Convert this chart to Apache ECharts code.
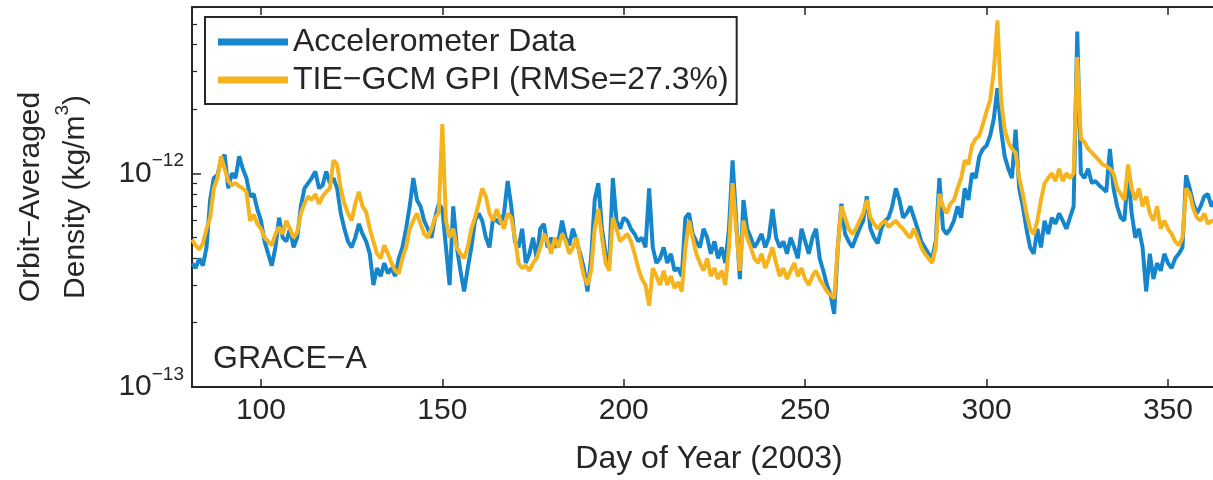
<!DOCTYPE html>
<html>
<head>
<meta charset="utf-8">
<script src="https://cdn.jsdelivr.net/npm/echarts@6/dist/echarts.min.js"></script>
<style>
  html, body { margin: 0; padding: 0; background: #fff; overflow: hidden; }
  #chart { width: 1226px; height: 480px; }
</style>
</head>
<body>
<div id="chart"></div>
<script>
// Day of year 81..363 (one value per day), densities in units of 1e-12 kg/m^3
const firstDay = 81;
const accelerometer = [
  0.38,0.36,0.40,0.37,0.45,0.75,0.95,0.98,1.15,1.22,
  0.85,1.0,0.95,1.2,1.05,0.95,0.78,0.8,0.68,0.6,
  0.48,0.42,0.37,0.45,0.62,0.5,0.48,0.55,0.45,0.5,
  0.7,0.85,0.9,0.95,1.02,0.85,0.88,1.02,0.9,0.95,
  0.85,0.65,0.55,0.48,0.45,0.5,0.58,0.52,0.48,0.42,
  0.3,0.36,0.33,0.38,0.34,0.36,0.33,0.4,0.45,0.55,
  0.7,0.95,0.75,0.7,0.6,0.55,0.5,0.62,0.72,0.68,
  0.45,0.3,0.7,0.45,0.35,0.28,0.36,0.45,0.6,0.65,
  0.6,0.5,0.45,0.62,0.6,0.58,0.65,0.92,0.7,0.48,
  0.45,0.55,0.38,0.42,0.5,0.4,0.55,0.58,0.45,0.5,
  0.45,0.48,0.6,0.5,0.46,0.55,0.48,0.42,0.36,0.28,
  0.4,0.75,0.9,0.55,0.42,0.38,0.95,0.6,0.55,0.62,
  0.6,0.55,0.52,0.48,0.5,0.45,0.85,0.45,0.38,0.4,
  0.45,0.38,0.42,0.35,0.36,0.33,0.62,0.65,0.52,0.48,
  0.45,0.55,0.5,0.42,0.48,0.4,0.45,0.38,0.55,1.15,
  0.6,0.32,0.75,0.55,0.5,0.45,0.48,0.52,0.45,0.5,
  0.68,0.5,0.45,0.48,0.42,0.5,0.45,0.4,0.55,0.48,
  0.42,0.5,0.55,0.4,0.35,0.3,0.27,0.22,0.45,0.72,
  0.52,0.48,0.45,0.5,0.55,0.6,0.78,0.55,0.5,0.47,
  0.55,0.6,0.62,0.7,0.85,0.75,0.62,0.65,0.7,0.62,
  0.55,0.48,0.45,0.42,0.4,0.48,0.95,0.55,0.52,0.55,
  0.6,0.7,0.62,0.85,0.75,1.0,0.95,1.2,1.3,1.35,
  1.5,1.8,2.5,1.6,1.2,1.05,0.95,1.6,0.85,0.7,
  0.55,0.45,0.42,0.55,0.45,0.6,0.52,0.62,0.58,0.65,
  0.6,0.55,0.62,0.7,4.6,1.0,0.95,1.05,0.9,0.92,
  0.88,0.85,0.82,1.3,0.85,0.7,0.62,0.6,1.0,0.65,
  0.5,0.55,0.45,0.28,0.42,0.32,0.38,0.35,0.42,0.38,
  0.36,0.4,0.42,0.45,0.98,0.85,0.72,0.65,0.7,0.78,0.8,0.7,0.75
];
const tiegcm = [
  0.49,0.46,0.44,0.47,0.55,0.62,0.85,0.95,1.2,1.05,
  0.92,0.88,0.9,0.87,0.85,0.82,0.6,0.64,0.58,0.55,
  0.5,0.48,0.46,0.52,0.56,0.52,0.6,0.55,0.5,0.53,
  0.65,0.72,0.78,0.75,0.8,0.72,0.78,0.82,0.85,1.15,
  1.1,0.85,0.72,0.65,0.6,0.72,0.82,0.7,0.66,0.55,
  0.48,0.42,0.4,0.46,0.42,0.38,0.35,0.34,0.4,0.45,
  0.55,0.6,0.65,0.58,0.52,0.5,0.55,0.62,0.65,1.7,
  0.6,0.5,0.55,0.45,0.42,0.4,0.45,0.55,0.62,0.72,
  0.85,0.78,0.65,0.6,0.68,0.6,0.55,0.65,0.62,0.5,
  0.38,0.36,0.37,0.35,0.38,0.4,0.45,0.52,0.48,0.42,
  0.5,0.45,0.52,0.48,0.42,0.45,0.5,0.4,0.33,0.3,
  0.35,0.55,0.68,0.5,0.38,0.35,0.62,0.55,0.48,0.5,
  0.52,0.48,0.42,0.36,0.32,0.3,0.24,0.36,0.33,0.3,
  0.35,0.3,0.33,0.29,0.31,0.28,0.45,0.6,0.5,0.42,
  0.38,0.35,0.4,0.33,0.36,0.32,0.35,0.3,0.45,0.9,
  0.55,0.35,0.6,0.5,0.45,0.4,0.38,0.42,0.36,0.4,
  0.45,0.38,0.33,0.36,0.32,0.35,0.38,0.33,0.36,0.32,
  0.3,0.33,0.35,0.32,0.3,0.28,0.27,0.26,0.45,0.7,
  0.62,0.55,0.52,0.55,0.6,0.65,0.75,0.62,0.58,0.55,
  0.58,0.6,0.56,0.58,0.6,0.57,0.55,0.52,0.5,0.55,
  0.5,0.45,0.42,0.4,0.38,0.45,0.8,0.7,0.65,0.72,
  0.75,0.85,0.95,1.15,1.1,1.35,1.45,1.5,1.7,1.95,
  2.2,3.0,5.2,2.2,1.6,1.4,1.3,1.25,0.95,0.8,
  0.65,0.55,0.52,0.6,0.75,0.9,0.95,1.0,0.92,1.05,
  0.92,1.0,0.95,1.0,3.5,1.45,1.4,1.3,1.25,1.2,
  1.15,1.1,1.08,1.05,1.0,0.85,0.8,0.75,1.1,0.85,
  0.75,0.85,0.7,0.78,0.65,0.6,0.7,0.55,0.6,0.55,
  0.52,0.48,0.46,0.5,0.85,0.8,0.68,0.62,0.6,0.65,0.58,0.6,0.6
];
const seriesNames = ['Accelerometer Data', 'TIE\u2212GCM GPI (RMSe=27.3%)'];
const xTicks = [100, 150, 200, 250, 300, 350];
const yMajorTicks = [0.1, 1];            // 10^-13, 10^-12
const yMinorTicks = [0.2,0.3,0.4,0.5,0.6,0.7,0.8,0.9,2,3,4,5,6];
const panelLabel = 'GRACE\u2212A';

const days = accelerometer.map((_, i) => firstDay + i);
const FONT = 'Liberation Sans, Arial, Helvetica, sans-serif';
const TXT = '#262626';

const chart = echarts.init(document.getElementById('chart'), null, { renderer: 'canvas' });
chart.setOption({
  animation: false,
  textStyle: { fontFamily: FONT, color: TXT },
  grid: { left: 192, right: 0, top: 7, bottom: 91, containLabel: false },
  legend: {
    left: 205, top: 17, orient: 'vertical', icon: 'rect',
    itemWidth: 70, itemHeight: 7, itemGap: 6,
    padding: [9, 8, 8, 13],
    borderColor: TXT, borderWidth: 2, backgroundColor: '#fff',
    textStyle: { fontSize: 32, lineHeight: 32, color: TXT, fontFamily: FONT },
    data: seriesNames
  },
  xAxis: [{
    type: 'value', min: 81, max: 366, position: 'bottom',
    axisLine: { show: true, lineStyle: { color: TXT, width: 2 } },
    axisTick: { show: true, inside: true, length: 8, customValues: xTicks, lineStyle: { color: TXT, width: 1.5 } },
    axisLabel: { customValues: xTicks, fontSize: 30, color: TXT, margin: 9, fontFamily: FONT },
    splitLine: { show: false },
    name: 'Day of Year (2003)', nameLocation: 'middle', nameGap: 56,
    nameTextStyle: { fontSize: 32, color: TXT, fontFamily: FONT }
  }, {
    type: 'value', min: 81, max: 366, position: 'top',
    axisLine: { show: true, lineStyle: { color: TXT, width: 2 } },
    axisTick: { show: true, inside: true, length: 8, customValues: xTicks, lineStyle: { color: TXT, width: 1.5 } },
    axisLabel: { show: false },
    splitLine: { show: false }
  }],
  yAxis: [{
    type: 'log', logBase: 10, min: 0.1, max: 6, position: 'left',
    axisLine: { show: true, lineStyle: { color: TXT, width: 2 } },
    axisTick: { show: true, inside: true, length: 9, customValues: yMajorTicks, lineStyle: { color: TXT, width: 1.5 } },
    axisLabel: {
      customValues: yMajorTicks, margin: 8,
      formatter: v => '{b|10}{s|\u2212' + (12 - Math.round(Math.log10(v))) + '}',
      rich: {
        b: { fontSize: 30, lineHeight: 44, color: TXT, fontFamily: FONT },
        s: { fontSize: 19, lineHeight: 20, verticalAlign: 'top', color: TXT, fontFamily: FONT }
      }
    },
    splitLine: { show: false }, minorTick: { show: false },
    name: 'Orbit\u2212Averaged\nDensity (kg/m{s|3})',
    nameLocation: 'middle', nameRotate: 90, nameGap: 94,
    nameTextStyle: {
      fontSize: 30, lineHeight: 45, color: TXT, fontFamily: FONT,
      rich: { s: { fontSize: 19, lineHeight: 20, verticalAlign: 'top', color: TXT, fontFamily: FONT } }
    }
  }, {
    type: 'log', logBase: 10, min: 0.1, max: 6, position: 'left',
    axisLine: { show: false },
    axisTick: { show: true, inside: true, length: 5, customValues: yMinorTicks, lineStyle: { color: TXT, width: 1.2 } },
    axisLabel: { show: false },
    splitLine: { show: false }
  }],
  graphic: [{
    type: 'text', left: 213, top: 343, z: 100,
    style: { text: panelLabel, fontSize: 32, fill: TXT, fontFamily: FONT }
  }],
  series: [{
    name: seriesNames[0], type: 'line', showSymbol: false, symbol: 'none',
    xAxisIndex: 0, yAxisIndex: 0,
    data: days.map((d, i) => [d, accelerometer[i]]),
    lineStyle: { color: '#1586CC', width: 4 }, itemStyle: { color: '#1586CC' }
  }, {
    name: seriesNames[1], type: 'line', showSymbol: false, symbol: 'none',
    xAxisIndex: 0, yAxisIndex: 0,
    data: days.map((d, i) => [d, tiegcm[i]]),
    lineStyle: { color: '#F5B41E', width: 4 }, itemStyle: { color: '#F5B41E' }
  }]
});
</script>
</body>
</html>
